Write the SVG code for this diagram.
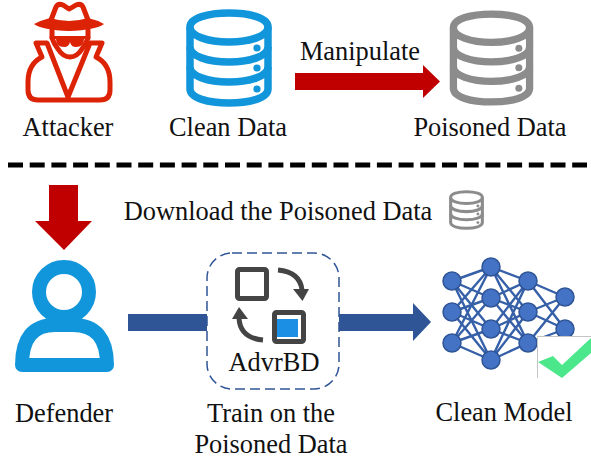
<svg xmlns="http://www.w3.org/2000/svg" xmlns:xlink="http://www.w3.org/1999/xlink" width="591" height="459" viewBox="0 0 591 459">
<style>
text{font-family:"Liberation Serif","Times New Roman",serif;font-size:26.400px;fill:#111;text-anchor:middle}
.db{fill:none;stroke:currentColor;stroke-width:7.500}
.dot{fill:currentColor}
.nn{stroke:#3660A8;stroke-width:2.400;fill:none}
.nd{fill:#4472C4;stroke:#2F5597;stroke-width:1.500}
.red{fill:#C00000}
.blue{fill:#2F5597}
.ic{fill:none;stroke:#444;stroke-width:5}
.atk{fill:none;stroke:#DD2306;stroke-width:5;stroke-linejoin:round;stroke-linecap:round}
.atkf{fill:#DD2306}
</style>
<defs>
<symbol id="db" viewBox="0 0 86 98" overflow="visible">
<path class="db" d="M4 18C4 9 22 4 43 4S82 9 82 18V80C82 89 64 94 43 94S4 89 4 80Z"/>
<path class="db" d="M4 18C4 27 22 33 43 33S82 27 82 18M4 38C4 47 22 53 43 53S82 47 82 38M4 58C4 67 22 73 43 73S82 67 82 58"/>
<circle class="dot" cx="71" cy="39" r="3.600"/><circle class="dot" cx="71" cy="59" r="3.600"/><circle class="dot" cx="71" cy="80" r="3.600"/>
</symbol>
</defs>
<rect width="591" height="459" fill="#fff"/>
<g id="attacker">
<path class="atk" d="M51 20L56 7Q58 3 63 5Q66 7 69 9Q73 7 76 5Q81 3 83 7L88 20"/>
<path class="atkf" d="M34 24Q42 20 50 18Q69 24 88 18Q97 20 104 24Q96 30 69 31Q42 30 34 24Z"/>
<path class="atk" d="M52 30V37M88 30V37" stroke-width="4"/>
<path class="atkf" d="M50 36H90V39H84Q84 47 76 47Q71 47 70 42Q69 47 64 47Q56 47 56 39H50Z"/>
<path class="atk" d="M52 38Q54 44 58 49Q63 57 70 57Q77 57 82 49Q86 44 88 38" stroke-width="4"/>
<path class="atk" d="M42 57Q28 64 28 82V90Q28 100 38 100H100Q110 100 110 90V82Q110 64 96 57L102 43H90L68 97L47 43H36Z"/>
<text x="68" y="136">Attacker</text>
</g>
<g id="clean-data" color="#1296DB">
<use xlink:href="#db" href="#db" x="186" y="9" width="86" height="98"/>
<text x="228" y="136">Clean Data</text>
</g>
<g id="poisoned-data" color="#8C8C8C">
<use xlink:href="#db" href="#db" x="449.500" y="9" width="84" height="98"/>
<text x="490" y="136">Poisoned Data</text>
</g>
<g id="download-label" color="#8C8C8C">
<text x="278" y="220">Download the Poisoned Data</text>
<use xlink:href="#db" href="#db" x="449" y="190" width="35" height="40"/>
</g>
<g id="defender">
<circle cx="64" cy="292" r="25" fill="none" stroke="#1296DB" stroke-width="14"/>
<path d="M22 365Q22 325 55 325H73Q107 325 107 365Z" fill="none" stroke="#1296DB" stroke-width="14" stroke-linejoin="round"/>
<text x="64" y="422">Defender</text>
</g>
<g id="connectors">
<path d="M8 165H587" stroke="#000" stroke-width="5" stroke-dasharray="15 6.700" fill="none"/>
<path class="red" d="M295 73H423V65L440 81.500L423 98V90H295Z"/>
<path class="red" d="M49 185H78V221H92L64 250L35 221H49Z"/>
<path class="blue" d="M128 314H207V331H128Z"/>
<path class="blue" d="M339 314H413V303L431 322L413 341V331H339Z"/>
<text x="360" y="60">Manipulate</text>
</g>
<g id="advrbd">
<rect x="207" y="253" width="132" height="136" rx="25" fill="#fff" stroke="#2F5597" stroke-width="1.500" stroke-dasharray="10 5"/>
<rect class="ic" x="237.500" y="269.500" width="29" height="29" rx="2"/>
<rect class="ic" x="274.500" y="312.500" width="29" height="29" rx="2"/>
<rect x="277" y="319" width="21" height="18" fill="#1A8FE3"/>
<path class="ic" d="M278 270Q300 272 302 290" stroke-width="5.500"/>
<path d="M293 289H309L302.500 301Z" fill="#444"/>
<path class="ic" d="M263 340Q240 338 239 318" stroke-width="5.500"/>
<path d="M232 319H248L239 307Z" fill="#444"/>
<text x="274" y="371">AdvrBD</text>
</g>
<g id="train-label">
<text x="271" y="422">Train on the</text>
<text x="271" y="453">Poisoned Data</text>
</g>
<g id="clean-model">
<path class="nn" d="M452 281L491 267M452 281L491 298M452 281L491 329M452 281L491 360M452 312L491 267M452 312L491 298M452 312L491 329M452 312L491 360M452 343L491 267M452 343L491 298M452 343L491 329M452 343L491 360M491 267L528 281M491 267L528 312M491 267L528 343M491 298L528 281M491 298L528 312M491 298L528 343M491 329L528 281M491 329L528 312M491 329L528 343M491 360L528 281M491 360L528 312M491 360L528 343M528 281L565 297M528 281L565 329M528 312L565 297M528 312L565 329M528 343L565 297M528 343L565 329"/>
<circle class="nd" cx="452" cy="281" r="9"/><circle class="nd" cx="452" cy="312" r="9"/><circle class="nd" cx="452" cy="343" r="9"/>
<circle class="nd" cx="491" cy="267" r="9"/><circle class="nd" cx="491" cy="298" r="9"/><circle class="nd" cx="491" cy="329" r="9"/><circle class="nd" cx="491" cy="360" r="9"/>
<circle class="nd" cx="528" cy="281" r="9"/><circle class="nd" cx="528" cy="312" r="9"/><circle class="nd" cx="528" cy="343" r="9"/>
<circle class="nd" cx="565" cy="297" r="9"/><circle class="nd" cx="565" cy="329" r="9"/>
<path d="M537.500 378V336.500H591V378Z" fill="#fff"/>
<path d="M537.500 378V336.500H591" fill="none" stroke="#C4C4C4" stroke-width="1"/>
<path d="M538 362L553 356L562 365L591 338V353L562 378Z" fill="#4BE78A"/>
<text x="504" y="421">Clean Model</text>
</g>
</svg>
